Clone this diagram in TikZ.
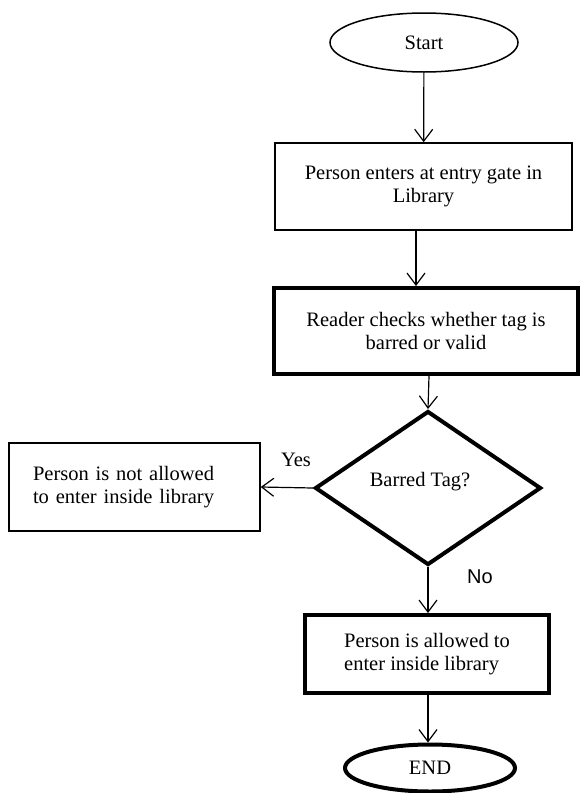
\documentclass[tikz,border=0pt]{standalone}
\usepackage{fontspec}
\setmainfont{Liberation Serif}
\newfontfamily\labsans{Liberation Sans}
\usetikzlibrary{shapes.geometric,arrows.meta}
\begin{document}
\begin{tikzpicture}[x=1pt,y=-1pt,
  every node/.style={font=\fontsize{20.5}{23}\selectfont, align=center},
  thinbox/.style={draw, rectangle, line width=1.5pt, inner sep=0pt},
  thickbox/.style={draw, rectangle, line width=4pt, inner sep=0pt},
  arr/.style={line width=1.2pt, -{Straight Barb[length=12pt,width=18pt,line width=1.2pt]}},
  lab/.style={inner sep=0pt}
]
\useasboundingbox (0,0) rectangle (580,793);
\node[draw, ellipse, line width=1.5pt, minimum width=188pt, minimum height=59pt, inner sep=0pt] (start) at (424,42.5) {Start};
\node[thinbox, minimum width=297pt, minimum height=87pt] (b1) at (423.5,186.5) {\raisebox{-5pt}{\begin{tabular}{@{}c@{}}Person enters at entry gate in\\Library\end{tabular}}};
\node[thickbox, minimum width=304pt, minimum height=86pt] (b2) at (426,331) {Reader checks whether tag is\\barred or valid};
\node[draw, diamond, line width=4pt, minimum width=226pt, minimum height=154pt, inner sep=0pt] (d) at (428,488) {\raisebox{18pt}{Barred Tag?}\hspace*{16pt}};
\node[thinbox, text width=203pt, inner xsep=24pt, minimum height=88pt, align=left] (no) at (134.5,487) {Person is not allowed\\to enter inside library};
\node[thickbox, minimum width=244pt, minimum height=78pt] (b3) at (427,654) {\raisebox{5pt}{\begin{tabular}{@{}l@{}}Person is allowed to\\enter inside library\end{tabular}}};
\node[draw, ellipse, line width=4pt, minimum width=170pt, minimum height=47pt, inner sep=0pt] (end) at (430,768) {\raisebox{-4pt}{END}};
\node[lab] (yes) at (296,460) {Yes};
\node[lab, font=\labsans\fontsize{20}{23}\selectfont] (nolab) at (480,577) {No};
\draw[arr] (start) -- (b1);
\draw[arr] ([xshift=-7.5pt]b1.south) -- ([xshift=-10pt]b2.north);
\draw[arr] ([xshift=3pt]b2.south) -- (d.north);
\draw[arr] (d.west) -- (no.east);
\draw[arr] (d.south) -- ([xshift=1pt]b3.north);
\draw[arr] ([xshift=1pt]b3.south) -- ([xshift=-2pt]end.north);
\end{tikzpicture}
\end{document}
